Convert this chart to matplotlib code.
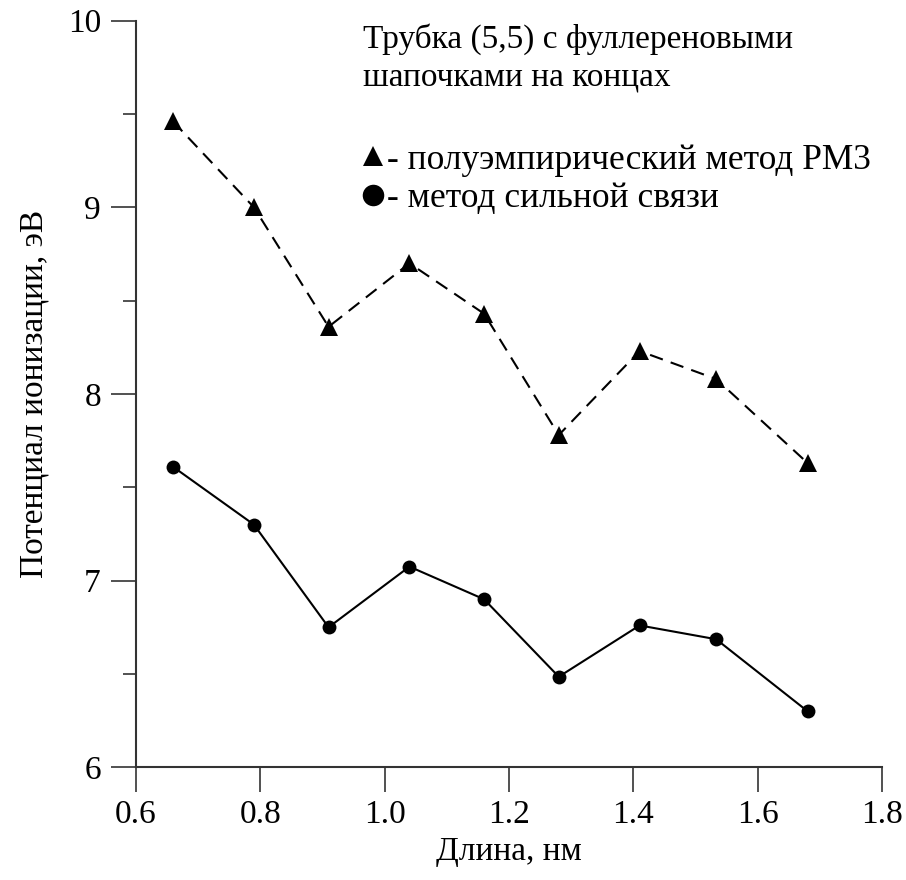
import matplotlib
matplotlib.use("Agg")
import matplotlib.pyplot as plt
from matplotlib.lines import Line2D
from matplotlib.ticker import MultipleLocator, FormatStrFormatter

# data
length_nm = [0.66, 0.79, 0.91, 1.04, 1.16, 1.28, 1.41, 1.533, 1.68]
ip_pm3 = [9.46, 9.00, 8.36, 8.70, 8.43, 7.78, 8.23, 8.08, 7.63]
ip_tb = [7.61, 7.30, 6.75, 7.075, 6.90, 6.485, 6.76, 6.686, 6.30]

title_text = "Трубка (5,5) с фуллереновыми\nшапочками на концах"
label_pm3 = "- полуэмпирический метод PM3"
label_tb = "- метод сильной связи"

plt.rcParams["font.family"] = ["Liberation Serif", "DejaVu Serif"]
plt.rcParams["font.size"] = 24

fig = plt.figure(figsize=(9.06, 8.8), dpi=100)
ax = fig.add_subplot(111)
fig.subplots_adjust(left=0.1498, right=0.9738, bottom=0.1281, top=0.9765)

ax.plot(length_nm, ip_pm3, color="black", lw=1.5, dashes=(6.5, 4),
        marker="^", markersize=13.5, markeredgewidth=0)
ax.plot(length_nm, ip_tb, color="black", lw=1.5, ls="-",
        marker="o", markersize=10, markeredgewidth=0)

ax.set_xlim(0.6, 1.8)
ax.set_ylim(6, 10)
ax.xaxis.set_major_locator(MultipleLocator(0.2))
ax.xaxis.set_major_formatter(FormatStrFormatter("%.1f"))
ax.yaxis.set_major_locator(MultipleLocator(1))
ax.yaxis.set_minor_locator(MultipleLocator(0.5))

for side in ["top", "right"]:
    ax.spines[side].set_visible(False)
for side in ["left", "bottom"]:
    ax.spines[side].set_linewidth(1.5)
    ax.spines[side].set_color("#333333")

ax.tick_params(axis="both", which="major", direction="out", length=18,
               width=1.2, color="#333333")
ax.tick_params(axis="y", which="minor", direction="out", length=9.5,
               width=1.2, color="#333333")
ax.tick_params(axis="x", which="major", pad=5)
ax.tick_params(axis="y", which="major", pad=7)

ax.set_xlabel("Длина, нм", labelpad=5)
ax.set_ylabel("Потенциал ионизации, эВ", labelpad=13)

ax.text(0.966, 9.985, title_text, va="top", ha="left", linespacing=1.27)

handles = [
    Line2D([], [], ls="none", marker="^", markersize=14, color="black",
           markeredgewidth=0),
    Line2D([], [], ls="none", marker="o", markersize=15.5, color="black",
           markeredgewidth=0),
]
ax.legend(handles, [label_pm3, label_tb], loc="upper left",
          bbox_to_anchor=(0.303, 0.835), frameon=False, borderpad=0,
          borderaxespad=0, handlelength=0.6, handletextpad=0.1,
          labelspacing=0.15, fontsize=25.5)

fig.savefig("out.png", dpi=100)
